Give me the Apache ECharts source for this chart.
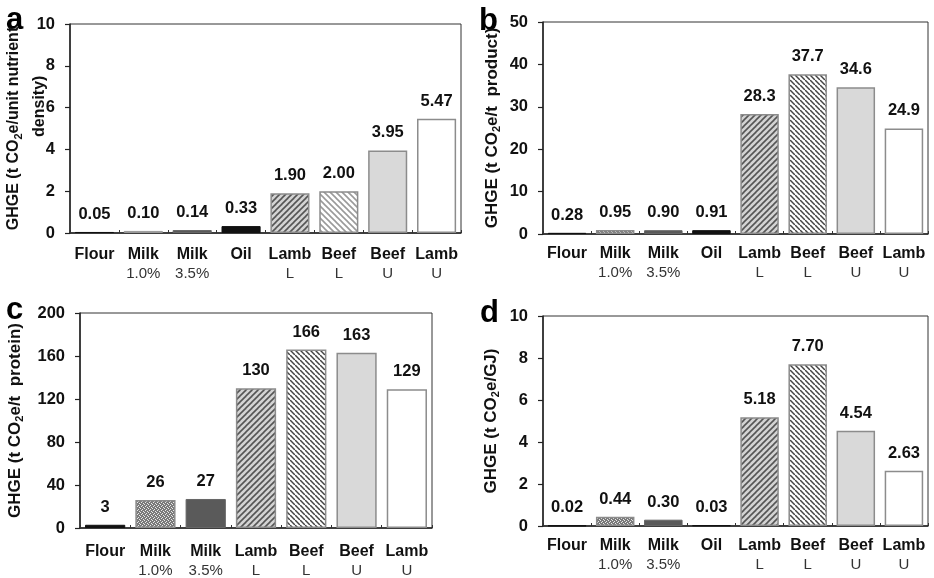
<!DOCTYPE html>
<html><head><meta charset="utf-8">
<script src="https://cdn.jsdelivr.net/npm/echarts@6/dist/echarts.min.js"></script>
<style>html,body{margin:0;padding:0;background:#fff}#c{width:934px;height:578px}</style>
</head><body><div id="c"></div>
<script>
// ---- data ----
const categories8 = ['Flour','Milk 1.0%','Milk 3.5%','Oil','Lamb L','Beef L','Beef U','Lamb U'];
const categories7 = ['Flour','Milk 1.0%','Milk 3.5%','Lamb L','Beef L','Beef U','Lamb U'];
const valuesA = [0.05,0.10,0.14,0.33,1.90,2.00,3.95,5.47];
const valuesB = [0.28,0.95,0.90,0.91,28.3,37.7,34.6,24.9];
const valuesC = [3,26,27,130,166,163,129];
const valuesD = [0.02,0.44,0.30,0.03,5.18,7.70,4.54,2.63];
const yTicksA = [0,2,4,6,8,10];
const yTicksB = [0,10,20,30,40,50];
const yTicksC = [0,40,80,120,160,200];
const yTicksD = [0,2,4,6,8,10];
const panelLetters = ['a','b','c','d'];

const FONT = '"Liberation Sans", Arial, sans-serif';

function hatch(bg, fg, dir, s, lw){
  const c = document.createElement('canvas'); c.width = s; c.height = s;
  const g = c.getContext('2d');
  g.fillStyle = bg; g.fillRect(0,0,s,s);
  g.strokeStyle = fg; g.lineWidth = lw;
  const segs = dir === '/' ?
    [[0,s,s,0],[-s/2,s/2,s/2,-s/2],[s/2,s+s/2,s+s/2,s/2]] :
    [[0,0,s,s],[-s/2,s/2,s/2,s+s/2],[s/2,-s/2,s+s/2,s/2]];
  segs.forEach(p=>{g.beginPath();g.moveTo(p[0],p[1]);g.lineTo(p[2],p[3]);g.stroke();});
  return {image: c, repeat: 'repeat'};
}
function dots(){
  const c = document.createElement('canvas'); c.width = 4; c.height = 4;
  const g = c.getContext('2d');
  g.fillStyle = '#7a7a7a'; g.fillRect(0,0,4,4);
  g.fillStyle = '#e8e8e8';
  [[0,0],[2,1],[1,2],[3,3]].forEach(p=>g.fillRect(p[0],p[1],1,1));
  return {image: c, repeat: 'repeat'};
}
const border = '#8c8c8c';
function styleFor(cat, panel){
  switch(cat){
    case 'Flour': return {color:'#111', borderColor:'#111', borderWidth:1};
    case 'Oil': return {color:'#111', borderColor:'#111', borderWidth:1};
    case 'Milk 1.0%': return panel==='a' ? {color:'#b0b0b0', borderColor:'#999', borderWidth:1} : {color:dots(), borderColor:border, borderWidth:1.5};
    case 'Milk 3.5%': return {color:'#5a5a5a', borderColor:'#666', borderWidth:1};
    case 'Lamb L': return {color:hatch('#d4d4d4','#555','/',6,1.6), borderColor:border, borderWidth:1.5};
    case 'Beef L': return {color: panel==='a' ? hatch('#fff','#9a9a9a','\\',6,1.6) : hatch('#fff','#444','\\',5.5,1.5), borderColor:border, borderWidth:1.5};
    case 'Beef U': return {color:'#d9d9d9', borderColor:border, borderWidth:1.5};
    case 'Lamb U': return {color:'#fff', borderColor:border, borderWidth:1.5};
  }
}

const grids = [
  {left:70, top:24, width:391, height:209},
  {left:543, top:22, width:385, height:212},
  {left:80, top:313, width:352, height:215},
  {left:543, top:316, width:385, height:210}
];
const panels = [
  {id:'a', cats:categories8, vals:valuesA, ticks:yTicksA, fmt:v=>v.toFixed(2), fs:16, xm:12,
   name:'{t|GHGE (t CO}{s|2}{t|e/unit nutrient}\n{t|          density)}', gap:17},
  {id:'b', cats:categories8, vals:valuesB, ticks:yTicksB, fmt:v=>v<10?v.toFixed(2):v.toFixed(1), fs:17, xm:10,
   name:'{t|GHGE (t CO}{s|2}{t|e/t  product)}', gap:38},
  {id:'c', cats:categories7, vals:valuesC, ticks:yTicksC, fmt:v=>String(v), fs:17, xm:14,
   name:'{t|GHGE (t CO}{s|2}{t|e/t  protein)}', gap:52},
  {id:'d', cats:categories8, vals:valuesD, ticks:yTicksD, fmt:v=>v.toFixed(2), fs:17, xm:10,
   name:'{t|GHGE (t CO}{s|2}{t|e/GJ)}', gap:39}
];

const option = {
  animation:false,
  textStyle:{fontFamily:FONT},
  grid: grids.map(g=>Object.assign({show:true, borderColor:'#333', borderWidth:1, containLabel:false, outerBoundsMode:'none'}, g)),
  xAxis: panels.map((p,i)=>({
    type:'category', gridIndex:i, data:p.cats,
    axisLine:{lineStyle:{color:'#222', width:1.5}},
    axisTick:{show:true, inside:true, length:3, lineStyle:{color:'#333'}},
    axisLabel:{
      interval:0, margin:p.xm, color:'#111',
      formatter:(v)=>{const k=v.indexOf(' '); return k<0?'{m|'+v+'}':'{m|'+v.slice(0,k)+'}\n{s|'+v.slice(k+1)+'}';},
      rich:{m:{fontFamily:FONT,fontWeight:'bold',fontSize:16,lineHeight:19,color:'#111'},
            s:{fontFamily:FONT,fontSize:15,lineHeight:19,color:'#333'}}
    }
  })),
  yAxis: panels.map((p,i)=>({
    type:'value', gridIndex:i, min:p.ticks[0], max:p.ticks[p.ticks.length-1],
    interval:p.ticks[1]-p.ticks[0],
    splitLine:{show:false},
    axisLine:{show:true, lineStyle:{color:'#222', width:1.5}},
    axisTick:{show:true, length:5, lineStyle:{color:'#222', width:1.2}},
    axisLabel:{margin:15, color:'#111', fontWeight:'bold', fontSize:16.5, fontFamily:FONT},
    name:p.name, nameLocation:'middle', nameGap:p.gap, nameRotate:90, nameMoveOverlap:false,
    nameTextStyle:{align:'center', rich:{
      t:{fontFamily:FONT,fontWeight:'bold',fontSize:p.fs,color:'#111',lineHeight:26},
      s:{fontFamily:FONT,fontWeight:'bold',fontSize:11,color:'#111',lineHeight:26,padding:[9,0,0,0]}
    }}
  })),
  series: panels.map((p,i)=>({
    type:'bar', xAxisIndex:i, yAxisIndex:i, barCategoryGap:'20%',
    data:p.vals.map((v,j)=>({value:v, itemStyle:styleFor(p.cats[j], p.id)})),
    label:{show:true, position:'top', distance:9, fontFamily:FONT, fontWeight:'bold', fontSize:16.5, color:'#111',
      formatter:(o)=>p.fmt(o.value)}
  })),
  graphic: [
    {type:'text', left:6, top:5, style:{text:panelLetters[0], font:'bold 31px '+FONT, fill:'#000'}},
    {type:'text', left:479, top:6, style:{text:panelLetters[1], font:'bold 31px '+FONT, fill:'#000'}},
    {type:'text', left:6, top:295, style:{text:panelLetters[2], font:'bold 31px '+FONT, fill:'#000'}},
    {type:'text', left:480, top:298, style:{text:panelLetters[3], font:'bold 31px '+FONT, fill:'#000'}}
  ]
};
const chart = echarts.init(document.getElementById('c'), null, {renderer:'canvas'});
chart.setOption(option);
</script></body></html>
